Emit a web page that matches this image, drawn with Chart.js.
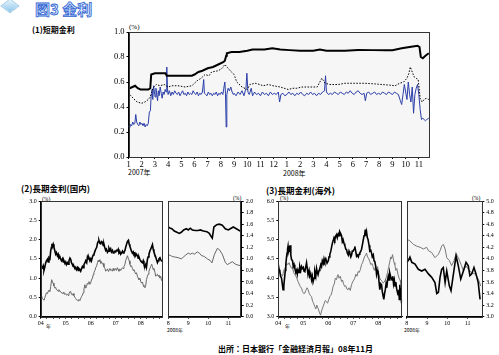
<!DOCTYPE html>
<html><head><meta charset="utf-8">
<script src="https://cdn.jsdelivr.net/npm/chart.js@4/dist/chart.umd.min.js"></script>
<style>
body{margin:0;width:499px;height:355px;background:#fff;position:relative;overflow:hidden;font-family:"Noto Sans CJK JP",sans-serif;}
canvas{position:absolute}
.t{position:absolute;white-space:nowrap;color:#000;line-height:1}
.sw{position:absolute;height:0}
</style></head><body>
<div style="position:absolute;left:3px;top:-1px;width:12px;height:12px;transform:scaleY(0.75) rotate(45deg);background:linear-gradient(135deg,#e6f4fc,#8ec6ea);border:1px solid #9cc9e6"></div>
<div class="t" style="left:35px;top:1px;font-size:15px;font-weight:bold;color:#dcecff;-webkit-text-stroke:0.8px #2f62d0">図3 金利</div>
<div class="t" style="left:32px;top:26px;font-size:8px;font-weight:bold">(1)短期金利</div>
<div class="t" style="left:129px;top:24px;font-size:7px;font-family:'Liberation Serif'">(%)</div>
<div class="t" style="left:128px;top:168.5px;font-size:7px">2007年</div>
<div class="t" style="left:283px;top:170px;font-size:7px">2008年</div>
<div class="t" style="left:21px;top:184px;font-size:8.5px;font-weight:bold">(2)長期金利(国内)</div>
<div class="t" style="left:266px;top:186px;font-size:8.5px;font-weight:bold">(3)長期金利(海外)</div>
<div class="t" style="left:42px;top:197px;font-size:5.5px;font-family:'Liberation Serif'">(%)</div>
<div class="t" style="left:233px;top:196px;font-size:5.5px;font-family:'Liberation Serif'">(%)</div>
<div class="t" style="left:280px;top:196px;font-size:5.5px;font-family:'Liberation Serif'">(%)</div>
<div class="t" style="left:472px;top:196px;font-size:5.5px;font-family:'Liberation Serif'">(%)</div>
<div class="t" style="left:46px;top:323px;font-size:5px">年</div>
<div class="t" style="left:167px;top:327px;font-size:5px">2008年</div>
<div class="t" style="left:285px;top:323px;font-size:5px">年</div>
<div class="t" style="left:404px;top:327px;font-size:5px">2008年</div>
<div class="t" style="left:218px;top:345px;font-size:8px;font-weight:bold">出所：日本銀行「金融経済月報」08年11月</div>
<!-- legends -->
<div class="sw" style="left:253px;top:128px;width:21px;border-top:2px solid #000"></div>
<div class="t" style="left:276px;top:125px;font-size:7.5px">ユーロ円金利（ＴＩＢＯＲ３か月物）</div>
<div class="sw" style="left:253px;top:136px;width:21px;border-top:1px dotted #000"></div>
<div class="t" style="left:276px;top:132px;font-size:7.5px">ＦＢ利回り（３か月物）</div>
<div class="sw" style="left:253px;top:143px;width:21px;border-top:1px solid #2b3ea8"></div>
<div class="t" style="left:276px;top:139.5px;font-size:7.5px">無担保コールレート（オーバーナイト物）</div>
<div class="sw" style="left:47px;top:211px;width:7px;border-top:1.5px solid #000"></div>
<div class="t" style="left:55px;top:208.5px;font-size:5px">10年新発債利回り</div>
<div class="sw" style="left:47px;top:219.5px;width:7px;border-top:1px solid #666"></div>
<div class="t" style="left:55px;top:217px;font-size:5px">５年新発債利回り</div>
<div class="sw" style="left:288px;top:209.5px;width:9px;border-top:1.5px solid #000"></div>
<div class="t" style="left:298px;top:207px;font-size:5px">米国10年債利回り</div>
<div class="sw" style="left:288px;top:218px;width:9px;border-top:1px solid #777"></div>
<div class="t" style="left:298px;top:215.5px;font-size:5px">ドイツ10年債利回り</div>

<canvas id="c1"></canvas><canvas id="c2"></canvas><canvas id="c3"></canvas><canvas id="c4"></canvas><canvas id="c5"></canvas>
<script>
// ---- tick labels ----
const monthLabels = ['1','2','3','4','5','6','7','8','9','10','11','12','1','2','3','4','5','6','7','8','9','10','11'];
const yearLabels = ['04','05','06','07','08'];
const zoomMonthLabels = ['8','9','10','11'];

// ---- (1) short-term rates: [months since Jan 2007, %] ----
const tibor = [[0,0.55],[0.1,0.55],[0.3,0.56],[0.5,0.57],[0.7,0.55],[0.9,0.54],[1.2,0.54],[1.5,0.54],[1.65,0.55],[1.72,0.66],[2.0,0.67],[2.5,0.67],[2.8,0.67],[2.9,0.65],[3.5,0.65],[4.2,0.65],[4.8,0.65],[5.0,0.66],[5.3,0.68],[5.6,0.69],[6.0,0.71],[6.4,0.72],[6.8,0.74],[7.2,0.76],[7.3,0.77],[7.4,0.81],[7.45,0.83],[7.8,0.84],[8.4,0.84],[9.0,0.85],[9.4,0.86],[9.7,0.86],[10.3,0.86],[10.9,0.87],[11.5,0.86],[12.2,0.855],[13.0,0.85],[14.0,0.85],[14.5,0.86],[15.0,0.85],[15.9,0.85],[16.4,0.85],[17.4,0.856],[18.5,0.855],[19.5,0.855],[20.0,0.855],[20.7,0.87],[21.3,0.88],[21.9,0.89],[22.05,0.88],[22.15,0.80],[22.3,0.79],[22.5,0.81],[22.75,0.83]];
const fb = [[0,0.52],[0.1,0.50],[0.35,0.47],[0.65,0.44],[1.0,0.43],[1.25,0.44],[1.5,0.46],[1.65,0.48],[1.85,0.55],[2.1,0.58],[2.4,0.57],[2.7,0.58],[3.0,0.56],[3.3,0.57],[3.75,0.57],[4.3,0.56],[4.8,0.57],[5.2,0.61],[5.5,0.63],[5.8,0.66],[6.1,0.65],[6.3,0.68],[6.8,0.69],[7.1,0.71],[7.3,0.74],[7.55,0.71],[7.8,0.68],[8.0,0.66],[8.2,0.60],[8.6,0.56],[9.0,0.54],[9.2,0.58],[9.6,0.59],[9.95,0.58],[10.2,0.57],[10.6,0.58],[10.95,0.57],[11.5,0.56],[12.1,0.54],[12.45,0.55],[12.75,0.55],[13.15,0.56],[13.5,0.56],[13.9,0.56],[14.3,0.56],[14.5,0.60],[14.65,0.63],[14.9,0.59],[15.25,0.58],[15.9,0.58],[16.4,0.59],[17.15,0.59],[17.9,0.59],[18.65,0.585],[19.2,0.58],[19.8,0.575],[20.2,0.57],[20.55,0.59],[20.85,0.60],[21.1,0.63],[21.25,0.67],[21.35,0.72],[21.5,0.68],[21.65,0.64],[21.8,0.63],[21.95,0.62],[22.0,0.57],[22.1,0.47],[22.25,0.44],[22.4,0.46],[22.55,0.47],[22.75,0.46]];
const call = [[0.0,0.25],[0.08,0.23],[0.16,0.26],[0.24,0.25],[0.32,0.28],[0.4,0.26],[0.48,0.27],[0.55,0.34],[0.62,0.28],[0.7,0.26],[0.78,0.25],[0.86,0.28],[0.94,0.26],[1.02,0.27],[1.1,0.25],[1.18,0.27],[1.26,0.24],[1.34,0.26],[1.42,0.25],[1.5,0.27],[1.58,0.36],[1.66,0.37],[1.72,0.50],[1.78,0.54],[1.84,0.46],[1.9,0.57],[1.96,0.52],[2.02,0.48],[2.08,0.55],[2.14,0.50],[2.2,0.45],[2.26,0.53],[2.32,0.49],[2.4,0.56],[2.48,0.51],[2.55,0.47],[2.62,0.52],[2.7,0.50],[2.78,0.54],[2.85,0.52],[2.9,0.72],[2.95,0.55],[3.0,0.50],[3.1,0.53],[3.2,0.49],[3.3,0.52],[3.4,0.50],[3.5,0.53],[3.6,0.51],[3.7,0.50],[3.8,0.52],[3.9,0.49],[4.0,0.51],[4.1,0.53],[4.2,0.50],[4.3,0.51],[4.4,0.49],[4.5,0.52],[4.6,0.50],[4.7,0.51],[4.8,0.50],[4.9,0.53],[5.0,0.51],[5.1,0.50],[5.2,0.52],[5.3,0.49],[5.4,0.51],[5.5,0.50],[5.6,0.52],[5.7,0.62],[5.75,0.51],[5.85,0.50],[5.95,0.49],[6.05,0.52],[6.15,0.50],[6.25,0.51],[6.35,0.49],[6.45,0.51],[6.55,0.50],[6.65,0.52],[6.75,0.49],[6.85,0.51],[6.95,0.50],[7.05,0.52],[7.15,0.50],[7.22,0.55],[7.3,0.60],[7.35,0.51],[7.4,0.24],[7.45,0.50],[7.55,0.55],[7.65,0.53],[7.75,0.56],[7.85,0.52],[7.95,0.50],
[8.0,0.51],[8.15,0.49],[8.3,0.52],[8.45,0.50],[8.6,0.53],[8.75,0.49],[8.9,0.55],[8.97,0.67],[9.05,0.52],[9.15,0.50],[9.3,0.55],[9.4,0.49],[9.55,0.52],[9.7,0.50],[9.85,0.51],[10.0,0.49],[10.15,0.52],[10.3,0.50],[10.45,0.51],[10.6,0.49],[10.75,0.52],[10.9,0.50],[11.05,0.51],[11.2,0.50],[11.35,0.52],[11.45,0.44],[11.55,0.50],[11.7,0.51],[11.85,0.49],[12.0,0.50],[12.15,0.52],[12.3,0.50],[12.45,0.51],[12.6,0.49],[12.75,0.51],[12.9,0.50],[13.05,0.52],[13.2,0.50],[13.35,0.49],[13.5,0.51],[13.65,0.50],[13.8,0.52],[13.95,0.50],[14.1,0.51],[14.25,0.49],[14.4,0.51],[14.55,0.50],[14.7,0.52],[14.85,0.53],[14.93,0.65],[15.0,0.52],[15.15,0.50],[15.3,0.51],[15.45,0.50],[15.6,0.52],[15.75,0.51],[15.9,0.50],[16.05,0.52],[16.2,0.51],[16.35,0.50],[16.5,0.52],[16.65,0.51],[16.8,0.53],[16.95,0.51],[17.1,0.50],[17.25,0.52],[17.4,0.53],[17.55,0.51],[17.7,0.50],[17.85,0.51],[17.95,0.45],[18.05,0.51],[18.2,0.52],[18.35,0.50],[18.5,0.51],[18.65,0.52],[18.8,0.50],[18.95,0.51],[19.1,0.50],[19.25,0.52],[19.4,0.51],[19.55,0.50],[19.7,0.52],[19.85,0.51],[20.0,0.50],[20.15,0.52],[20.3,0.51],[20.45,0.50],
[20.6,0.45],[20.7,0.42],[20.8,0.50],[20.9,0.58],[21.0,0.52],[21.1,0.46],[21.2,0.60],[21.3,0.50],[21.4,0.44],[21.5,0.56],[21.6,0.35],[21.7,0.50],[21.8,0.55],[21.9,0.58],[22.0,0.50],[22.1,0.38],[22.2,0.30],[22.3,0.31],[22.4,0.30],[22.5,0.29],[22.6,0.30],[22.75,0.31]];

// ---- (2) domestic long-term: [year, %] ----
const jgb10 = [[2004.00,1.36],[2004.03,1.30],[2004.07,1.27],[2004.10,1.32],[2004.13,1.20],[2004.17,1.30],[2004.20,1.40],[2004.23,1.45],[2004.27,1.49],[2004.30,1.42],[2004.33,1.53],[2004.37,1.50],[2004.40,1.71],[2004.43,1.80],[2004.45,1.89],[2004.47,1.82],[2004.50,1.88],[2004.53,1.80],[2004.57,1.70],[2004.60,1.62],[2004.63,1.66],[2004.67,1.58],[2004.70,1.62],[2004.73,1.52],[2004.77,1.55],[2004.80,1.49],[2004.83,1.45],[2004.87,1.50],[2004.90,1.42],[2004.93,1.45],[2004.97,1.38],[2005.00,1.42],[2005.03,1.35],[2005.07,1.40],[2005.10,1.36],[2005.13,1.45],[2005.17,1.52],[2005.20,1.49],[2005.23,1.40],[2005.27,1.35],[2005.30,1.30],[2005.33,1.31],[2005.37,1.25],[2005.40,1.28],[2005.43,1.22],[2005.47,1.27],[2005.50,1.20],[2005.53,1.25],[2005.57,1.22],[2005.60,1.18],[2005.63,1.24],[2005.67,1.30],[2005.70,1.27],[2005.73,1.35],[2005.77,1.40],[2005.80,1.45],[2005.84,1.40],[2005.87,1.55],[2005.90,1.50],[2005.93,1.53],[2005.97,1.45],[2006.00,1.50],[2006.03,1.45],[2006.07,1.55],[2006.10,1.60],[2006.13,1.62],[2006.17,1.70],[2006.20,1.75],[2006.24,1.80],[2006.27,1.90],[2006.30,1.95],[2006.33,1.98],[2006.37,1.90],[2006.40,1.89],[2006.43,1.95],[2006.47,1.93],[2006.50,1.85],[2006.53,1.88],[2006.56,1.80],[2006.60,1.72],[2006.63,1.75],[2006.67,1.67],[2006.70,1.70],[2006.73,1.78],[2006.77,1.72],[2006.80,1.76],[2006.83,1.68],[2006.87,1.72],[2006.90,1.65],[2006.93,1.67],[2006.97,1.70],[2007.00,1.68],[2007.03,1.72],[2007.07,1.71],[2007.10,1.75],[2007.13,1.65],[2007.17,1.68],[2007.20,1.62],[2007.23,1.65],[2007.27,1.70],[2007.30,1.65],[2007.33,1.67],[2007.37,1.72],[2007.40,1.80],[2007.44,1.89],[2007.47,1.95],[2007.51,1.98],[2007.54,1.88],[2007.57,1.82],[2007.60,1.76],[2007.63,1.70],[2007.67,1.65],[2007.70,1.68],[2007.73,1.62],[2007.77,1.65],[2007.80,1.58],[2007.83,1.62],[2007.87,1.58],[2007.90,1.52],[2007.93,1.55],[2007.97,1.48],[2008.00,1.45],[2008.03,1.42],[2008.07,1.40],[2008.10,1.45],[2008.13,1.36],[2008.17,1.30],[2008.20,1.35],[2008.23,1.28],[2008.27,1.49],[2008.30,1.55],[2008.33,1.62],[2008.37,1.71],[2008.40,1.75],[2008.43,1.80],[2008.47,1.87],[2008.50,1.75],[2008.53,1.68],[2008.56,1.62],[2008.60,1.55],[2008.63,1.48],[2008.67,1.40],[2008.70,1.45],[2008.73,1.50],[2008.77,1.53],[2008.80,1.48],[2008.83,1.45],[2008.87,1.43],[2008.91,1.45]];
const jgb5 = [[2004.00,0.51],[2004.03,0.55],[2004.07,0.47],[2004.10,0.45],[2004.13,0.43],[2004.17,0.50],[2004.20,0.56],[2004.23,0.62],[2004.27,0.60],[2004.30,0.66],[2004.33,0.69],[2004.37,0.65],[2004.40,0.78],[2004.44,0.96],[2004.47,0.90],[2004.50,0.87],[2004.53,0.80],[2004.57,0.74],[2004.60,0.76],[2004.63,0.70],[2004.67,0.69],[2004.70,0.66],[2004.73,0.70],[2004.77,0.65],[2004.80,0.65],[2004.83,0.62],[2004.87,0.60],[2004.90,0.63],[2004.93,0.60],[2004.97,0.58],[2005.00,0.60],[2005.03,0.56],[2005.07,0.58],[2005.10,0.55],[2005.13,0.60],[2005.17,0.65],[2005.20,0.65],[2005.23,0.58],[2005.27,0.56],[2005.30,0.60],[2005.33,0.55],[2005.37,0.50],[2005.40,0.47],[2005.43,0.44],[2005.47,0.43],[2005.50,0.41],[2005.53,0.45],[2005.57,0.42],[2005.60,0.47],[2005.63,0.52],[2005.67,0.56],[2005.70,0.62],[2005.73,0.72],[2005.77,0.83],[2005.80,0.74],[2005.83,0.78],[2005.87,0.87],[2005.90,0.85],[2005.93,0.91],[2005.97,0.84],[2006.00,0.88],[2006.03,0.95],[2006.07,1.00],[2006.10,1.09],[2006.13,1.15],[2006.17,1.20],[2006.20,1.27],[2006.24,1.32],[2006.27,1.40],[2006.30,1.46],[2006.33,1.42],[2006.37,1.48],[2006.40,1.38],[2006.43,1.43],[2006.47,1.36],[2006.50,1.38],[2006.53,1.29],[2006.57,1.25],[2006.60,1.18],[2006.63,1.20],[2006.67,1.24],[2006.70,1.18],[2006.73,1.20],[2006.77,1.25],[2006.80,1.20],[2006.83,1.22],[2006.87,1.18],[2006.90,1.25],[2006.93,1.20],[2006.97,1.22],[2007.00,1.25],[2007.03,1.20],[2007.07,1.27],[2007.10,1.22],[2007.13,1.18],[2007.17,1.24],[2007.20,1.20],[2007.23,1.22],[2007.27,1.27],[2007.30,1.25],[2007.33,1.30],[2007.37,1.36],[2007.40,1.46],[2007.44,1.52],[2007.47,1.58],[2007.51,1.50],[2007.54,1.45],[2007.57,1.36],[2007.60,1.30],[2007.63,1.32],[2007.67,1.25],[2007.70,1.20],[2007.73,1.22],[2007.77,1.15],[2007.80,1.11],[2007.83,1.14],[2007.87,1.05],[2007.90,1.00],[2007.93,0.96],[2007.97,1.00],[2008.00,0.92],[2008.03,0.87],[2008.07,0.90],[2008.10,0.82],[2008.13,0.78],[2008.17,0.75],[2008.20,0.80],[2008.23,0.96],[2008.27,1.05],[2008.30,1.10],[2008.33,1.18],[2008.37,1.25],[2008.40,1.30],[2008.44,1.36],[2008.47,1.30],[2008.50,1.22],[2008.53,1.25],[2008.57,1.15],[2008.60,1.05],[2008.63,1.08],[2008.67,1.10],[2008.70,1.05],[2008.73,1.08],[2008.77,1.00],[2008.80,1.05],[2008.83,0.95],[2008.87,0.92],[2008.91,0.91]];
// zoom: [months since Aug 2008, %]
const jgb10Recent = [[0,1.55],[0.1,1.53],[0.18,1.52],[0.3,1.48],[0.43,1.46],[0.55,1.44],[0.65,1.46],[0.77,1.50],[0.9,1.52],[1.0,1.50],[1.1,1.53],[1.2,1.50],[1.35,1.49],[1.5,1.49],[1.6,1.50],[1.75,1.48],[1.93,1.47],[2.05,1.44],[2.12,1.40],[2.2,1.36],[2.28,1.55],[2.42,1.59],[2.55,1.60],[2.7,1.58],[2.85,1.52],[3.0,1.50],[3.1,1.52],[3.25,1.55],[3.4,1.52],[3.55,1.49],[3.67,1.47]];
const jgb5Recent = [[0,1.07],[0.1,1.06],[0.2,1.04],[0.35,1.03],[0.5,1.02],[0.65,1.00],[0.75,1.03],[0.85,1.06],[1.0,1.10],[1.1,1.08],[1.2,1.10],[1.3,1.08],[1.45,1.12],[1.55,1.10],[1.65,1.06],[1.8,1.04],[1.95,1.00],[2.1,0.97],[2.18,0.93],[2.3,1.07],[2.45,1.18],[2.55,1.16],[2.7,1.08],[2.85,0.94],[2.95,0.90],[3.05,0.92],[3.2,0.95],[3.35,0.91],[3.5,0.89],[3.67,0.88]];

// ---- (3) overseas long-term: [year, %] ----
const us10 = [[2004.00,4.35],[2004.03,4.22],[2004.06,4.17],[2004.09,4.05],[2004.13,4.00],[2004.16,3.85],[2004.19,3.70],[2004.22,3.80],[2004.25,4.00],[2004.28,4.20],[2004.30,4.35],[2004.33,4.55],[2004.35,4.65],[2004.37,4.75],[2004.39,4.83],[2004.41,4.70],[2004.43,4.75],[2004.45,4.68],[2004.47,4.85],[2004.50,4.60],[2004.53,4.48],[2004.57,4.45],[2004.60,4.30],[2004.63,4.35],[2004.66,4.26],[2004.70,4.15],[2004.73,4.20],[2004.76,4.10],[2004.79,4.22],[2004.83,4.15],[2004.86,4.30],[2004.90,4.20],[2004.93,4.30],[2004.96,4.25],[2005.00,4.28],[2005.03,4.18],[2005.06,4.17],[2005.10,4.30],[2005.13,4.40],[2005.16,4.25],[2005.19,4.09],[2005.23,4.20],[2005.26,4.05],[2005.30,4.10],[2005.33,3.96],[2005.36,4.05],[2005.39,3.90],[2005.43,4.00],[2005.46,4.17],[2005.50,4.05],[2005.53,4.25],[2005.56,4.15],[2005.59,4.09],[2005.63,4.20],[2005.66,4.25],[2005.70,4.35],[2005.73,4.30],[2005.76,4.45],[2005.80,4.38],[2005.83,4.50],[2005.86,4.43],[2005.90,4.50],[2005.95,4.39],[2006.00,4.45],[2006.03,4.55],[2006.06,4.61],[2006.10,4.70],[2006.13,4.80],[2006.16,4.90],[2006.19,4.96],[2006.23,5.05],[2006.26,5.00],[2006.30,5.10],[2006.33,5.13],[2006.36,5.05],[2006.40,5.15],[2006.43,5.10],[2006.46,5.20],[2006.50,5.15],[2006.53,5.10],[2006.56,4.95],[2006.59,5.00],[2006.63,4.90],[2006.66,4.85],[2006.70,4.75],[2006.73,4.74],[2006.76,4.65],[2006.80,4.60],[2006.83,4.70],[2006.86,4.65],[2006.90,4.55],[2006.93,4.60],[2006.96,4.70],[2006.99,4.70],[2007.03,4.75],[2007.06,4.82],[2007.10,4.68],[2007.13,4.57],[2007.16,4.60],[2007.20,4.55],[2007.23,4.62],[2007.26,4.65],[2007.30,4.70],[2007.33,4.75],[2007.36,4.85],[2007.39,4.96],[2007.43,5.10],[2007.46,5.15],[2007.48,5.26],[2007.50,5.10],[2007.53,5.20],[2007.56,5.05],[2007.59,5.00],[2007.63,4.85],[2007.66,4.70],[2007.70,4.72],[2007.73,4.65],[2007.76,4.55],[2007.80,4.60],[2007.83,4.45],[2007.86,4.43],[2007.90,4.30],[2007.93,4.10],[2007.96,4.20],[2007.99,4.17],[2008.03,3.90],[2008.06,3.70],[2008.10,3.85],[2008.13,3.83],[2008.16,3.65],[2008.19,3.55],[2008.22,3.45],[2008.25,3.60],[2008.28,3.70],[2008.31,3.85],[2008.34,3.75],[2008.37,3.95],[2008.40,4.05],[2008.43,3.95],[2008.46,4.13],[2008.49,4.05],[2008.52,4.00],[2008.55,3.95],[2008.58,4.05],[2008.61,3.85],[2008.64,3.95],[2008.67,3.80],[2008.70,3.90],[2008.73,3.74],[2008.76,3.65],[2008.79,3.57],[2008.82,3.70],[2008.84,3.45],[2008.86,3.83],[2008.88,3.50],[2008.90,3.75],[2008.93,3.35]];
const de10 = [[2004.00,4.17],[2004.04,4.25],[2004.08,4.12],[2004.13,4.09],[2004.17,4.05],[2004.21,4.18],[2004.26,4.26],[2004.30,4.30],[2004.34,4.38],[2004.39,4.35],[2004.43,4.40],[2004.47,4.33],[2004.53,4.26],[2004.57,4.28],[2004.61,4.15],[2004.66,4.09],[2004.70,4.05],[2004.74,4.00],[2004.79,3.91],[2004.83,3.85],[2004.88,3.78],[2004.93,3.74],[2004.97,3.65],[2005.02,3.60],[2005.06,3.61],[2005.10,3.68],[2005.15,3.75],[2005.19,3.70],[2005.24,3.60],[2005.28,3.55],[2005.33,3.52],[2005.37,3.40],[2005.41,3.35],[2005.46,3.26],[2005.50,3.20],[2005.54,3.30],[2005.59,3.22],[2005.64,3.12],[2005.69,3.04],[2005.73,3.15],[2005.79,3.26],[2005.84,3.35],[2005.88,3.42],[2005.93,3.39],[2005.97,3.35],[2006.02,3.45],[2006.06,3.52],[2006.10,3.55],[2006.15,3.65],[2006.19,3.78],[2006.24,3.85],[2006.28,4.00],[2006.33,3.96],[2006.36,4.05],[2006.39,4.09],[2006.43,4.00],[2006.48,4.05],[2006.53,3.91],[2006.57,3.95],[2006.61,3.85],[2006.66,3.78],[2006.70,3.80],[2006.74,3.72],[2006.79,3.70],[2006.83,3.75],[2006.88,3.68],[2006.93,3.83],[2006.97,3.90],[2007.02,3.95],[2007.06,4.00],[2007.10,4.10],[2007.15,4.05],[2007.19,4.17],[2007.24,4.15],[2007.28,4.22],[2007.33,4.35],[2007.37,4.40],[2007.42,4.50],[2007.46,4.57],[2007.50,4.60],[2007.53,4.65],[2007.57,4.55],[2007.62,4.50],[2007.66,4.43],[2007.70,4.35],[2007.75,4.38],[2007.79,4.30],[2007.84,4.20],[2007.88,4.28],[2007.93,4.17],[2007.97,4.30],[2008.02,4.10],[2008.06,4.00],[2008.10,3.95],[2008.15,3.92],[2008.19,3.87],[2008.24,3.90],[2008.28,3.95],[2008.33,4.04],[2008.37,4.15],[2008.42,4.30],[2008.46,4.43],[2008.50,4.55],[2008.53,4.50],[2008.57,4.61],[2008.60,4.50],[2008.63,4.40],[2008.66,4.35],[2008.70,4.20],[2008.74,4.25],[2008.79,4.09],[2008.83,4.00],[2008.87,3.95],[2008.90,3.85],[2008.93,3.65]];
// zoom: [months since Aug 2008, %]
const us10Recent = [[0,3.94],[0.08,3.97],[0.16,4.03],[0.25,3.94],[0.41,3.91],[0.57,3.82],[0.74,3.79],[0.9,3.82],[1.07,3.74],[1.23,3.68],[1.39,3.59],[1.48,3.40],[1.56,3.42],[1.64,3.68],[1.72,3.82],[1.8,3.85],[1.89,3.59],[1.97,3.79],[2.1,3.53],[2.18,3.45],[2.3,3.74],[2.43,4.05],[2.54,3.88],[2.66,3.65],[2.79,3.79],[2.92,3.94],[3.03,3.88],[3.11,3.71],[3.2,3.74],[3.31,3.85],[3.41,3.74],[3.52,3.59],[3.61,3.30]];
const de10Recent = [[0,4.34],[0.16,4.31],[0.33,4.25],[0.49,4.22],[0.66,4.20],[0.82,4.17],[0.98,4.20],[1.07,4.14],[1.23,4.11],[1.39,4.02],[1.56,4.08],[1.64,4.14],[1.72,4.22],[1.8,4.25],[1.89,4.17],[1.97,4.02],[2.1,3.97],[2.21,3.88],[2.33,3.97],[2.43,4.09],[2.54,4.02],[2.7,3.88],[2.79,3.79],[2.92,3.88],[3.03,3.82],[3.2,3.76],[3.36,3.74],[3.48,3.68],[3.57,3.61],[3.64,3.53]];

// ---- helpers ----
const pts = a => a.map(p => ({x: p[0], y: p[1]}));
const framePlugin = {
  id: 'frame',
  beforeDraw(c) { const a = c.chartArea, x = c.ctx; x.save(); x.fillStyle = '#f6f6f6'; x.fillRect(a.left, a.top, a.right - a.left, a.bottom - a.top); x.restore(); },
  afterDraw(c) { const a = c.chartArea, x = c.ctx; x.save(); x.strokeStyle = '#333'; x.lineWidth = 1;
    x.strokeRect(Math.round(a.left) + 0.5, Math.round(a.top) + 0.5, Math.round(a.right - a.left) - 1, Math.round(a.bottom - a.top)); x.restore(); }
};
const near = v => Math.abs(v - Math.round(v)) < 1e-6;

function make(id, box, plot, yPos, yW, xH, xCfg, yCfg, datasets, fs) {
  const cv = document.getElementById(id);
  cv.width = box.w; cv.height = box.h;
  cv.style.left = box.l + 'px'; cv.style.top = box.t + 'px';
  const pad = {
    top: plot.t - box.t,
    bottom: box.t + box.h - plot.b - xH,
    left: yPos === 'left' ? plot.l - box.l - yW : plot.l - box.l,
    right: yPos === 'left' ? box.l + box.w - plot.r : box.l + box.w - plot.r - yW
  };
  const font = {family: 'Liberation Serif', size: fs};
  new Chart(cv, {
    type: 'line',
    data: {datasets},
    options: {
      responsive: false, animation: false, events: [],
      layout: {padding: pad},
      plugins: {legend: {display: false}, tooltip: {enabled: false}},
      elements: {point: {radius: 0}, line: {tension: 0}},
      scales: {
        x: Object.assign({type: 'linear',
          grid: {display: true, drawOnChartArea: false, color: '#000', tickLength: 2},
          border: {color: '#000'},
          afterFit(s) { s.height = xH; s.paddingLeft = 0; s.paddingRight = 0; }
        }, xCfg, {ticks: Object.assign({color: '#000', font, maxRotation: 0, autoSkip: false, padding: 1, includeBounds: false}, xCfg.ticks)}),
        y: Object.assign({position: yPos,
          grid: {display: true, drawOnChartArea: false, color: '#000', tickLength: 2},
          border: {color: '#000'},
          afterFit(s) { s.width = yW; s.paddingTop = 0; s.paddingBottom = 0; }
        }, yCfg, {ticks: Object.assign({color: '#000', font, padding: 2}, yCfg.ticks)})
      }
    },
    plugins: [framePlugin]
  });
}

// (1) short-term
make('c1', {l: 92, t: 24, w: 350, h: 156}, {l: 128.5, t: 32, r: 429, b: 157}, 'left', 32, 14,
  {min: 0, max: 22.77, ticks: {stepSize: 1, callback: v => near(v) ? (monthLabels[Math.round(v)] || '') : ''}},
  {min: 0, max: 1, ticks: {stepSize: 0.1, callback: v => v.toFixed(1)}},
  [
    {data: pts(tibor), borderColor: '#000', borderWidth: 2},
    {data: pts(fb), borderColor: '#000', borderWidth: 1, borderDash: [1.5, 1.5]},
    {data: pts(call), borderColor: '#2b3ea8', borderWidth: 1}
  ], 8.5);

// (2) domestic long, full period
make('c2', {l: 14, t: 195, w: 152, h: 134}, {l: 40.7, t: 201, r: 162.7, b: 316.7}, 'left', 20, 12,
  {min: 2004, max: 2008.88, ticks: {stepSize: 0.25, callback: v => near(v) ? (yearLabels[Math.round(v) - 2004] || '') : ''}},
  {min: 0, max: 3, ticks: {stepSize: 0.5, callback: v => v.toFixed(1)}},
  [
    {data: pts(jgb10), borderColor: '#000', borderWidth: 1.6},
    {data: pts(jgb5), borderColor: '#666', borderWidth: 1}
  ], 6);

// (2) domestic long, recent
make('c3', {l: 162, t: 195, w: 100, h: 134}, {l: 168.3, t: 201, r: 241.7, b: 316.7}, 'right', 18, 12,
  {min: 0, max: 3.67, ticks: {stepSize: 1, callback: v => near(v) ? (zoomMonthLabels[Math.round(v)] || '') : ''}},
  {min: 0, max: 2, ticks: {stepSize: 0.2, callback: v => v.toFixed(1)}},
  [
    {data: pts(jgb10Recent), borderColor: '#000', borderWidth: 1.6},
    {data: pts(jgb5Recent), borderColor: '#666', borderWidth: 1}
  ], 6);

// (3) overseas long, full period
make('c4', {l: 252, t: 195, w: 152, h: 134}, {l: 278.3, t: 201, r: 402.3, b: 316.7}, 'left', 20, 12,
  {min: 2004, max: 2008.96, ticks: {stepSize: 0.25, callback: v => near(v) ? (yearLabels[Math.round(v) - 2004] || '') : ''}},
  {min: 3, max: 6, ticks: {stepSize: 0.5, callback: v => v.toFixed(1)}},
  [
    {data: pts(us10), borderColor: '#000', borderWidth: 1.6},
    {data: pts(de10), borderColor: '#777', borderWidth: 1}
  ], 6);

// (3) overseas long, recent
make('c5', {l: 400, t: 195, w: 99, h: 134}, {l: 406.7, t: 201, r: 482.3, b: 316.7}, 'right', 16, 12,
  {min: 0, max: 3.72, ticks: {stepSize: 1, callback: v => near(v) ? (zoomMonthLabels[Math.round(v)] || '') : ''}},
  {min: 3, max: 5, ticks: {stepSize: 0.2, callback: v => v.toFixed(1)}},
  [
    {data: pts(us10Recent), borderColor: '#000', borderWidth: 1.6},
    {data: pts(de10Recent), borderColor: '#777', borderWidth: 1}
  ], 6);
</script>
</body></html>
